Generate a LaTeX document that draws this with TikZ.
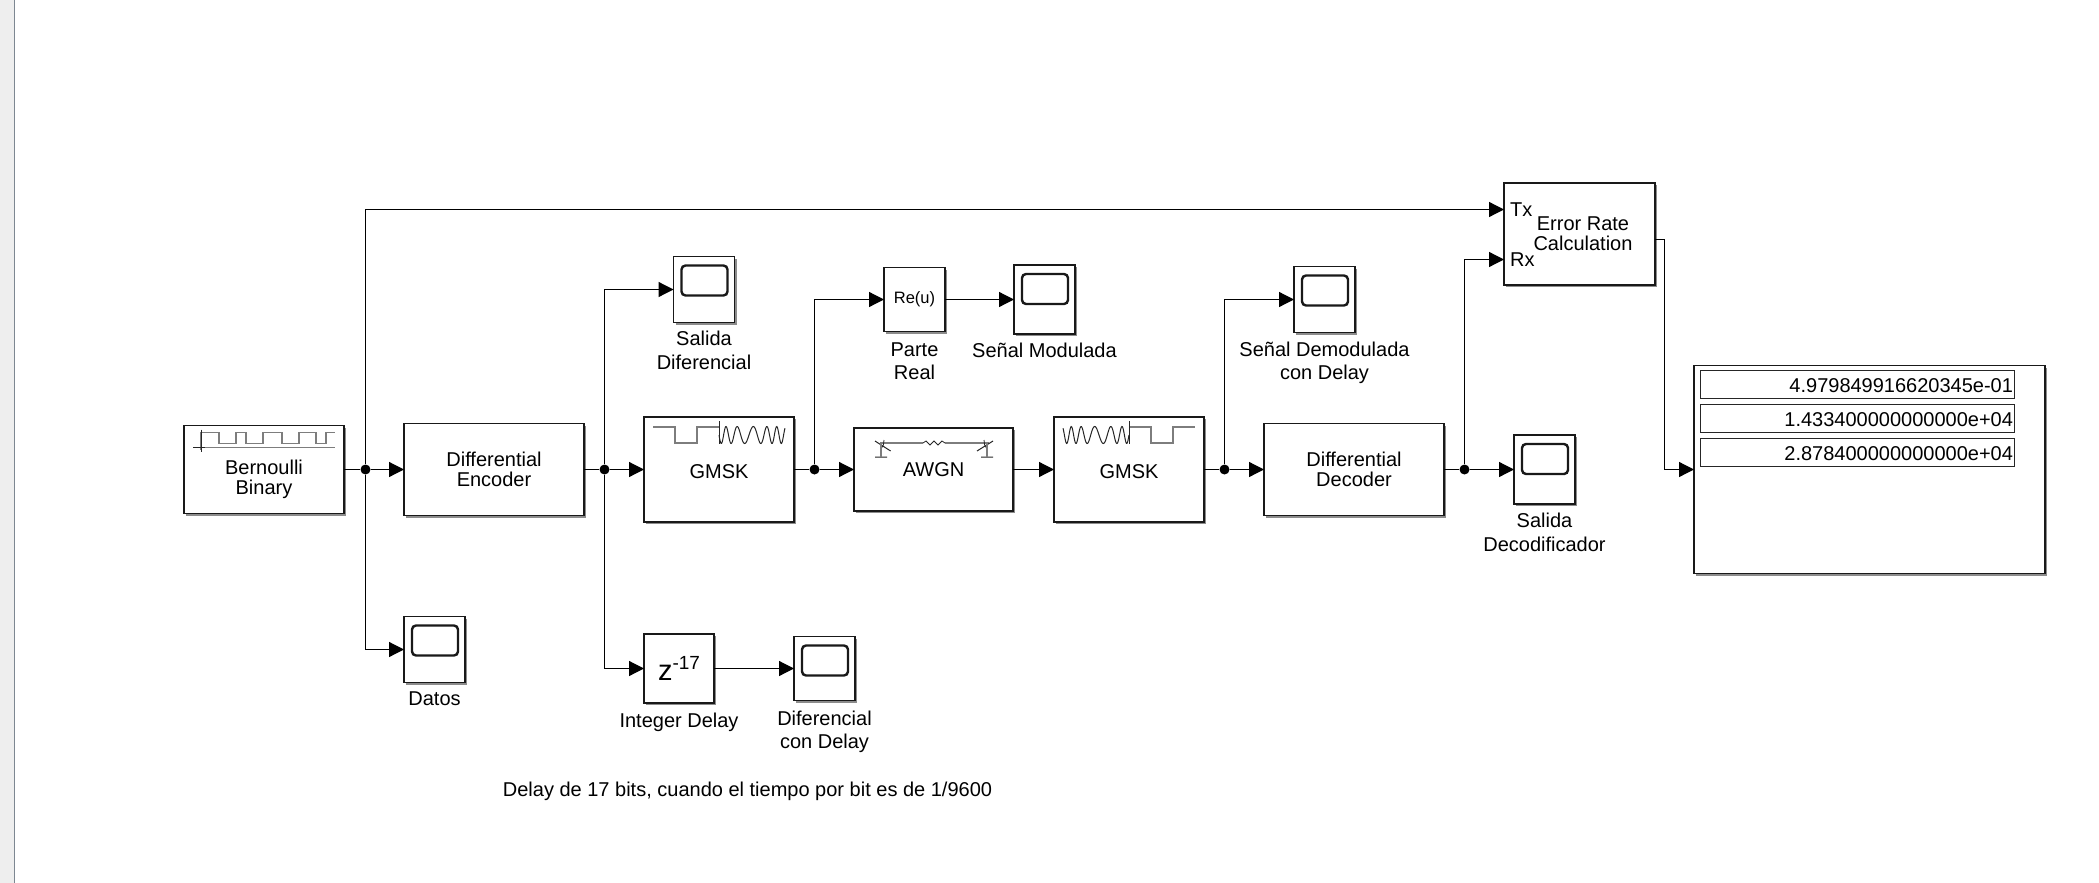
\documentclass[tikz,border=0pt]{standalone}
\usepackage{fontspec}
\setmainfont{Liberation Sans}
\usetikzlibrary{arrows.meta,positioning,calc,shadows}
\definecolor{iconline}{RGB}{125,125,125}
\definecolor{stripfill}{RGB}{238,238,238}
\definecolor{stripline}{RGB}{125,135,145}

\begin{document}
\begin{tikzpicture}[
  x=1pt, y=-1pt,
  font=\fontsize{20}{20.5}\selectfont,
  bk/.style={draw=black!90, fill=white, line width=1.8pt, align=center, inner sep=0pt, outer sep=0pt,
             drop shadow={shadow xshift=2.2pt, shadow yshift=-2.2pt, fill=black, opacity=.45}},
  scp/.style={bk, minimum width=61pt, minimum height=66pt},
  lbl/.style={align=center, inner sep=0pt, font=\fontsize{20}{23.5}\selectfont},
  jn/.style={circle, fill=black, inner sep=0pt, minimum size=10pt},
  wr/.style={line width=1.2pt},
  arr/.style={-{Triangle[length=15pt,width=15pt]}, line width=1.2pt},
  icon/.style={iconline, line width=1.6pt},
  sine/.style={black!85, line width=1pt, smooth, samples=130},
  screen/.style={draw=black!90, rounded corners=4pt, line width=2.4pt}
]
\useasboundingbox (0,0) rectangle (2099,883);
\fill[stripfill] (0,0) rectangle (14,883);
\draw[stripline, line width=1.2pt] (14.5,0) -- (14.5,883);

% main chain
\node[bk, minimum width=160pt, minimum height=88pt] (bern) at (264,469.5) {};
\node[bk, minimum width=180pt, minimum height=92pt, right=60pt of bern] (enc) {Differential\\Encoder};
\node[bk, minimum width=150pt, minimum height=105pt, text height=17.3pt, right=60pt of enc] (g1) {GMSK};
\node[bk, minimum width=159pt, minimum height=83pt, right=60pt of g1] (awgn) {AWGN};
\node[bk, minimum width=150pt, minimum height=105pt, text height=17.3pt, right=41pt of awgn] (g2) {GMSK};
\node[bk, minimum width=180pt, minimum height=92pt, right=60pt of g2] (dec) {Differential\\Decoder};
\node[scp, minimum height=69pt, right=70pt of dec] (ssal) {};
\node[lbl] (berntxt) at ($(bern.center)+(0,10)$) {Bernoulli\\[-3pt]Binary};

% junctions
\node[jn] (j1) at ($(bern.east)+(21.5,0)$) {};
\node[jn] (j2) at ($(enc.east)+(20.5,0)$) {};
\node[jn] (j3) at ($(g1.east)+(20.5,0)$) {};
\node[jn] (j4) at ($(g2.east)+(20.5,0)$) {};
\node[jn] (j5) at ($(dec.east)+(20.5,0)$) {};

% branches
\node[scp] (sdif) at (704,289.5) {};
\node[bk, minimum width=61pt, minimum height=64pt, font=\fontsize{16.5}{17}\selectfont] (re) at (914.5,299.5) {Re(u)};
\node[scp, minimum height=69pt, right=69pt of re] (smod) {};
\node[scp] (sdem) at (1324.5,299.5) {};
\node[scp] (sdat) at (434.5,649.5) {};
\node[bk, minimum width=70pt, minimum height=69pt] (del) at (679,668.5)
  {\fontsize{29}{29}\selectfont z\raisebox{11pt}{\fontsize{19}{19}\selectfont -17}};
\node[scp, minimum height=64pt, right=80pt of del] (sdly) {};
\node[bk, minimum width=151pt, minimum height=102pt] (err) at (1579.5,234) {};
\node[lbl, font=\fontsize{20}{20}\selectfont, xshift=3.5pt, yshift=.5pt] (errtxt) at (err.center) {Error Rate\\Calculation};
\node[bk, minimum width=351pt, minimum height=208pt] (disp) at (1869.5,469.5) {};

\coordinate (tx) at ($(err.north west)+(0,26.5)$);
\coordinate (rx) at ($(err.north west)+(0,76.5)$);
\coordinate (errout) at ($(err.north east)+(0,56.5)$);
\coordinate (turn) at ($(disp.west)+(-29.5,0)$);
\node[inner sep=0pt, anchor=west] (txl) at ($(tx)+(6,0)$) {Tx};
\node[inner sep=0pt, anchor=west] (rxl) at ($(rx)+(6,0)$) {Rx};

% labels
\node[lbl, below=8.5pt of sdif] (lsdif) {Salida\\Diferencial};
\node[lbl, below=11pt of re] (lre) {Parte\\Real};
\node[lbl, below=9pt of smod] (lsmod) {Señal Modulada};
\node[lbl, below=9pt of sdem] (lsdem) {Señal Demodulada\\con Delay};
\node[lbl, below=9pt of ssal] (lssal) {Salida\\Decodificador};
\node[lbl, below=9pt of sdat] (lsdat) {Datos};
\node[lbl, below=10pt of del] (ldel) {Integer Delay};
\node[lbl, below=10pt of sdly] (lsdly) {Diferencial\\con Delay};
\node[lbl] (dnote) at (747.5,791) {Delay de 17 bits, cuando el tiempo por bit es de 1/9600};

% display rows
\foreach \v [count=\i] in {4.979849916620345e-01,1.433400000000000e+04,2.878400000000000e+04}
  \node[draw=black!85, line width=1pt, minimum height=28pt, text width=312pt, text height=16.3pt, align=right, inner sep=1pt]
    (row\i) at ($(disp.north west)+(163,{19+33.8*(\i-1)})$) {\v};

% scope screens
\foreach \s in {sdif,smod,sdem,sdat,sdly,ssal}
  \draw[screen] ($(\s.north west)+(8,9)$) rectangle ($(\s.north east)+(-7,39)$);

% wires
\draw[wr] (bern) -- (j1);
\draw[arr] (j1) -- (enc);
\draw[wr] (enc) -- (j2);
\draw[arr] (j2) -- (g1);
\draw[wr] (g1) -- (j3);
\draw[arr] (j3) -- (awgn);
\draw[arr] (awgn) -- (g2);
\draw[wr] (g2) -- (j4);
\draw[arr] (j4) -- (dec);
\draw[wr] (dec) -- (j5);
\draw[arr] (j5) -- (ssal);
\draw[arr] (j1) |- (tx);
\draw[arr] (j1) |- (sdat);
\draw[arr] (j2) |- (sdif);
\draw[arr] (j2) |- (del);
\draw[arr] (del) -- (sdly);
\draw[arr] (j3) |- (re);
\draw[arr] (re) -- (smod);
\draw[arr] (j4) |- (sdem);
\draw[arr] (j5) |- (rx);
\draw[wr] (errout) -| (turn);
\draw[arr] (turn) -- (disp);

% icons
\begin{scope}[shift={(bern.north west)}]
  \draw[icon] (9,22) -- (151,22);
  \draw[icon] (17,24) -- (17,7) -- (35,7) -- (35,18) -- (52,18) -- (52,7) -- (62,7) -- (62,18) -- (79,18) -- (79,7)
    -- (98,7) -- (98,18) -- (115,18) -- (115,7) -- (132,7) -- (132,18) -- (142,18) -- (142,7) -- (151,7);
  \draw[black!85, line width=1pt] (17,4) -- (17,26) (9,22) -- (21,22);
\end{scope}
\begin{scope}[shift={(g1.north west)}]
  \draw[icon] (9,10) -- (31,10) -- (31,26) -- (53,26) -- (53,10) -- (75,10);
  \draw[black!85, line width=1pt] (75,4) -- (75,27);
  \draw[sine, domain=0:66] plot ({75+\x},{18+8.5*sin(30*\x+90*sin(6*\x))});
\end{scope}
\begin{scope}[shift={(g2.north west)}]
  \draw[icon] (75,10) -- (97,10) -- (97,26) -- (119,26) -- (119,10) -- (141,10);
  \draw[black!85, line width=1pt] (75,4) -- (75,27);
  \draw[sine, domain=0:66] plot ({75-\x},{18+8.5*sin(30*\x+90*sin(6*\x))});
\end{scope}
\begin{scope}[shift={(awgn.north west)}]
  \draw[icon] (26,15) -- (69,15) (91,15) -- (135,15);
  \draw[black!85, line width=.8pt] (69,15) -- (72,13) -- (76,17) -- (80,13) -- (84,17) -- (88,13) -- (91,15);
  \draw[black!85, line width=1pt] (21,13) -- (36.6,23) (21,29) -- (33,29) (139,13) -- (123,23) (127,29) -- (139,29);
  \draw[black!85, line width=.8pt] (30,12) to[bend left=20] (27,21) (130,12) to[bend right=20] (133,21);
  \draw[icon] (27,15) -- (27,29) (133,15) -- (133,29);
\end{scope}
\end{tikzpicture}
\end{document}
